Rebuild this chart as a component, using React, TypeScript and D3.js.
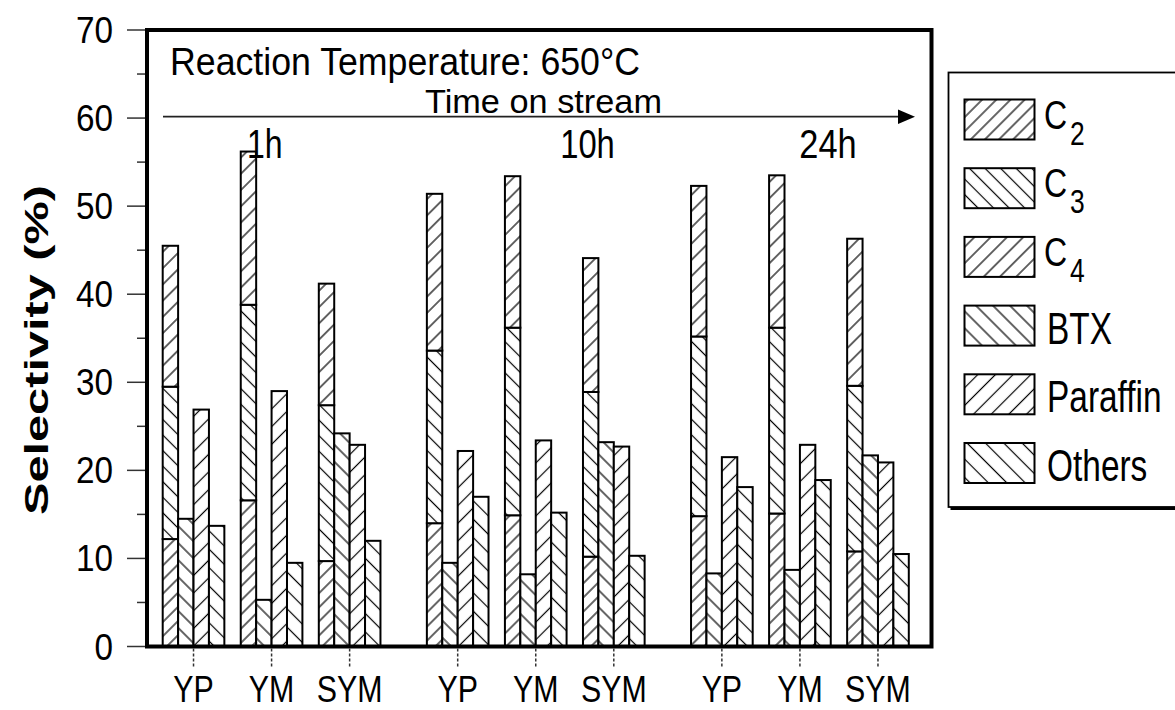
import React from 'react';
import * as d3 from 'd3';

// catalysts per time on stream
const times = ['1h', '10h', '24h'];
const catalysts = ['YP', 'YM', 'SYM'];
// order: 1h YP, YM, SYM, 10h YP, YM, SYM, 24h YP, YM, SYM
const c2 = [12.2, 16.6, 9.7, 14.0, 14.9, 10.2, 14.8, 15.1, 10.8];
const c3 = [17.3, 22.2, 17.7, 19.6, 21.3, 18.7, 20.4, 21.1, 18.8];
const c4 = [16.0, 17.4, 13.8, 17.8, 17.2, 15.2, 17.1, 17.3, 16.7];
const btx = [14.5, 5.3, 24.2, 9.5, 8.2, 23.2, 8.3, 8.7, 21.7];
const paraffin = [26.9, 29.0, 22.9, 22.2, 23.4, 22.7, 21.5, 22.9, 20.9];
const others = [13.7, 9.5, 12.0, 17.0, 15.2, 10.3, 18.1, 18.9, 10.5];
const yTicks = [0, 10, 20, 30, 40, 50, 60, 70];
const legendKeys = ['C2', 'C3', 'C4', 'BTX', 'Paraffin', 'Others'];

const W = 1175;
const H = 710;
const FONT = "'Liberation Sans', Arial, Helvetica, sans-serif";

const hatch: Record<string, { dir: number; gap: number }> = {
  C2: { dir: 45, gap: 10 },
  C3: { dir: -45, gap: 11 },
  C4: { dir: 45, gap: 11.5 },
  BTX: { dir: -45, gap: 12 },
  Paraffin: { dir: 45, gap: 12.5 },
  Others: { dir: -45, gap: 13 },
};

const Txt = ({ x, y, size, sx = 1, anchor = 'start', weight = 'normal', children }: any) => (
  <text
    transform={`translate(${x},${y}) scale(${sx},1)`}
    fontSize={size}
    fontFamily={FONT}
    fontWeight={weight}
    textAnchor={anchor}
    fill="#000"
  >
    {children}
  </text>
);

const App = () => {
  const plot = { left: 147, right: 931.5, top: 30, bottom: 646.5 };

  const y = d3.scaleLinear().domain([0, 70]).range([plot.bottom, plot.top]);
  const xTime = d3.scaleBand().domain(times).range([154.5, 917]).paddingInner(0.1136);
  const xCat = d3.scaleBand().domain(catalysts).range([0, xTime.bandwidth()]);
  const barKinds = ['olefin', 'BTX', 'Paraffin', 'Others'];
  const xBar = d3.scaleBand().domain(barKinds).range([8.2, xCat.bandwidth() - 8.2]);

  const rows = times.flatMap((t, g) =>
    catalysts.map((c, k) => {
      const i = g * 3 + k;
      return {
        time: t, cat: c,
        C2: c2[i], C3: c3[i], C4: c4[i],
        BTX: btx[i], Paraffin: paraffin[i], Others: others[i],
      };
    })
  );
  const stacked = d3.stack<any>().keys(['C2', 'C3', 'C4'])(rows);

  const minor = d3.range(5, 70, 10);

  // legend layout
  const lg = { x: 948.5, y: 72.5, w: 240, h: 434.5, sw: 70, sh: 40, top: 99.5, step: 68.7 };

  return (
    <svg width={W} height={H} style={{ position: 'absolute', left: 0, top: 0, background: '#fff' }}>
      <defs>
        {legendKeys.map((k) => (
          <pattern
            key={k}
            id={`h-${k}`}
            patternUnits="userSpaceOnUse"
            width={hatch[k].gap}
            height={hatch[k].gap}
            patternTransform={`rotate(${hatch[k].dir})`}
          >
            <rect width={hatch[k].gap} height={hatch[k].gap} fill="#fff" />
            <line x1={hatch[k].gap / 2} y1={0} x2={hatch[k].gap / 2} y2={hatch[k].gap} stroke="#000" strokeWidth={1.2} />
          </pattern>
        ))}
      </defs>

      {/* stacked light olefins */}
      {stacked.map((layer) =>
        layer.map((d: any, i: number) => {
          const r = rows[i];
          const x0 = (xTime(r.time) as number) + (xCat(r.cat) as number) + (xBar('olefin') as number);
          return (
            <rect
              key={layer.key + i}
              x={x0}
              y={y(d[1])}
              width={xBar.bandwidth()}
              height={y(d[0]) - y(d[1])}
              fill={`url(#h-${layer.key})`}
              stroke="#000"
              strokeWidth={2}
            />
          );
        })
      )}

      {/* BTX, paraffin, others */}
      {rows.map((r, i) =>
        (['BTX', 'Paraffin', 'Others'] as const).map((k) => {
          const x0 = (xTime(r.time) as number) + (xCat(r.cat) as number) + (xBar(k) as number);
          return (
            <rect
              key={k + i}
              x={x0}
              y={y((r as any)[k])}
              width={xBar.bandwidth()}
              height={y(0) - y((r as any)[k])}
              fill={`url(#h-${k})`}
              stroke="#000"
              strokeWidth={2}
            />
          );
        })
      )}

      {/* frame */}
      <rect
        x={plot.left}
        y={plot.top}
        width={plot.right - plot.left}
        height={plot.bottom - plot.top}
        fill="none"
        stroke="#000"
        strokeWidth={4}
      />

      {/* y axis ticks */}
      {yTicks.map((t) => (
        <g key={t}>
          <line x1={127} x2={plot.left - 2} y1={y(t)} y2={y(t)} stroke="#333" strokeWidth={1.5} />
          <Txt x={113} y={y(t) + 13} size={37} sx={0.9} anchor="end">{t}</Txt>
        </g>
      ))}
      {minor.map((t) => (
        <line key={t} x1={137} x2={plot.left - 2} y1={y(t)} y2={y(t)} stroke="#333" strokeWidth={1.5} />
      ))}

      {/* x axis ticks + labels */}
      {times.map((t) =>
        catalysts.map((c) => {
          const cx = (xTime(t) as number) + (xCat(c) as number) + xCat.bandwidth() / 2;
          return (
            <g key={t + c}>
              <line x1={cx} x2={cx} y1={plot.bottom + 2} y2={667} stroke="#333" strokeWidth={1.5} strokeDasharray="3,2" />
              <Txt x={cx} y={702} size={37} sx={0.82} anchor="middle">{c}</Txt>
            </g>
          );
        })
      )}

      {/* annotations */}
      <text x={170} y={75} fontSize={38} fontFamily={FONT} textLength={470} lengthAdjust="spacingAndGlyphs">
        Reaction Temperature: 650°C
      </text>
      <text x={425} y={113} fontSize={33} fontFamily={FONT} textLength={237} lengthAdjust="spacingAndGlyphs">
        Time on stream
      </text>
      <line x1={163} x2={900} y1={116.7} y2={116.7} stroke="#222" strokeWidth={1.8} />
      <path d="M 898 109.5 L 915 116.7 L 898 124 Z" fill="#000" />
      <Txt x={247} y={158} size={40} sx={0.8}>1h</Txt>
      <Txt x={587.5} y={158} size={40} sx={0.82} anchor="middle">10h</Txt>
      <Txt x={828} y={158} size={40} sx={0.86} anchor="middle">24h</Txt>

      {/* y label */}
      <text
        transform="translate(48,350) rotate(-90)"
        fontSize={33}
        fontWeight="bold"
        fontFamily={FONT}
        textAnchor="middle"
        textLength={330}
        lengthAdjust="spacingAndGlyphs"
      >
        Selectivity (%)
      </text>

      {/* legend */}
      <rect x={lg.x} y={lg.y} width={lg.w} height={lg.h} fill="#fff" stroke="#000" strokeWidth={1.8} />
      <line x1={lg.x + 2} x2={W} y1={lg.y + lg.h + 1.5} y2={lg.y + lg.h + 1.5} stroke="#000" strokeWidth={3} />
      {legendKeys.map((k, i) => {
        const top = lg.top + i * lg.step;
        const sub = k.startsWith('C');
        return (
          <g key={k}>
            <rect x={964.5} y={top} width={lg.sw} height={lg.sh} fill={`url(#h-${k})`} stroke="#000" strokeWidth={2} />
            {sub ? (
              <>
                <Txt x={1044} y={top + 29} size={40} sx={0.8}>C</Txt>
                <Txt x={1070} y={top + 45} size={33} sx={0.8}>{k.slice(1)}</Txt>
              </>
            ) : (
              <Txt x={1047} y={top + 38} size={44} sx={0.76}>{k}</Txt>
            )}
          </g>
        );
      })}
    </svg>
  );
};

export default App;
